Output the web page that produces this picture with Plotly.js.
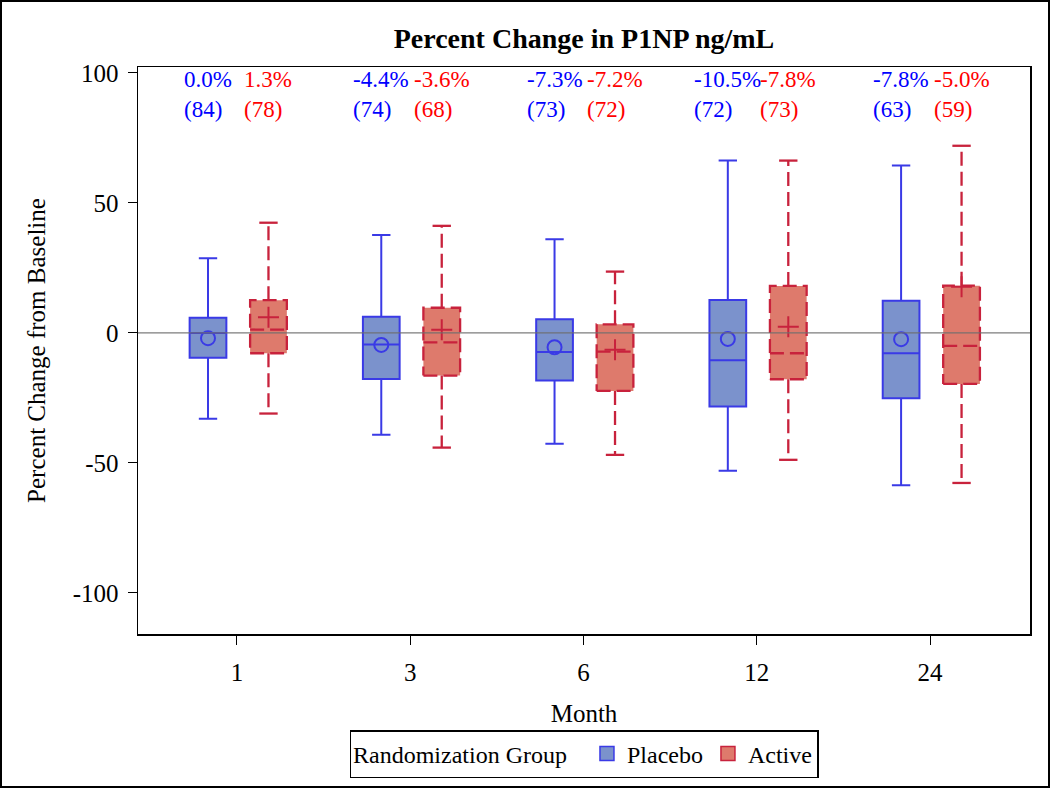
<!DOCTYPE html>
<html>
<head>
<meta charset="utf-8">
<script src="https://cdn.plot.ly/plotly-3.0.1.min.js"></script>
<style>
  html, body { margin: 0; padding: 0; background: #fff; }
  #wrap { position: relative; width: 1050px; height: 788px; }
  #chart { width: 1050px; height: 788px; }
  #frame { position: absolute; left: 0; top: 0; width: 1050px; height: 788px; box-sizing: border-box; border: 2px solid #000; pointer-events: none; }
</style>
</head>
<body>
<div id="wrap"><div id="chart"></div><div id="frame"></div></div>
<script>
// ---- data ----
const months = ['1', '3', '6', '12', '24'];
const yTickValues = [-100, -50, 0, 50, 100];
const yTickLabels = ['-100', '-50', '0', '50', '100'];

const placeboQ1     = [-9.5, -17.7, -18.3, -28.3, -25.1];
const placeboMedian = [0.0, -4.4, -7.3, -10.5, -7.8];
const placeboQ3     = [5.8, 6.2, 5.3, 12.7, 12.4];
const placeboLow    = [-33.0, -39.2, -42.6, -53.0, -58.6];
const placeboHigh   = [28.7, 37.7, 36.0, 66.3, 64.4];
const placeboMean   = [-2.0, -4.6, -5.5, -2.3, -2.4];
const placeboN      = [84, 74, 73, 72, 63];

const activeQ1      = [-7.8, -16.4, -22.3, -17.8, -19.6];
const activeMedian  = [1.3, -3.6, -7.2, -7.8, -5.0];
const activeQ3      = [12.6, 9.7, 3.3, 18.1, 18.2];
const activeLow     = [-31.0, -44.1, -46.9, -48.8, -57.7];
const activeHigh    = [42.4, 41.2, 23.6, 66.3, 72.0];
const activeMean    = [6.0, 1.2, -6.5, 2.4, 17.8];
const activeN       = [78, 68, 72, 73, 59];

// ---- styling / layout constants ----
const FONT = 'Liberation Serif, Times New Roman, serif';
const pOff = -0.167, aOff = 0.182, boxW = 0.212, capW = boxW * 0.5;
const pLine = '#3a3ae6', pFill = '#7b92cc';
const aLine = '#c8223c', aFill = '#de7a6c';

const idx = months.map((m, i) => i);
const px = idx.map(i => i + pOff);
const ax = idx.map(i => i + aOff);

const traces = [];

// Placebo boxes
traces.push({
  type: 'box', x: px, q1: placeboQ1, median: placeboMedian, q3: placeboQ3,
  lowerfence: placeboLow, upperfence: placeboHigh, width: boxW, whiskerwidth: 0.5,
  fillcolor: pFill, line: { color: pLine, width: 2 }, showlegend: false, hoverinfo: 'skip'
});

// Active boxes (fill only; dashed outline drawn below)
traces.push({
  type: 'box', x: ax, q1: activeQ1, median: activeMedian, q3: activeQ3,
  lowerfence: activeLow, upperfence: activeHigh, width: boxW, whiskerwidth: 0.5,
  fillcolor: aFill, line: { color: 'rgba(0,0,0,0)', width: 2 }, showlegend: false, hoverinfo: 'skip'
});

// Active dashed outline, median and whiskers
const dx = [], dy = [], cx = [], cy = [];
ax.forEach((x, i) => {
  const l = x - boxW / 2, r = x + boxW / 2;
  dx.push(l, r, r, l, l, null); dy.push(activeQ1[i], activeQ1[i], activeQ3[i], activeQ3[i], activeQ1[i], null);
  dx.push(l, r, null); dy.push(activeMedian[i], activeMedian[i], null);
  dx.push(x, x, null); dy.push(activeQ3[i], activeHigh[i], null);
  dx.push(x, x, null); dy.push(activeQ1[i], activeLow[i], null);
  cx.push(x - capW / 2, x + capW / 2, null); cy.push(activeHigh[i], activeHigh[i], null);
  cx.push(x - capW / 2, x + capW / 2, null); cy.push(activeLow[i], activeLow[i], null);
});
traces.push({
  type: 'scatter', mode: 'lines', x: dx, y: dy, connectgaps: false,
  line: { color: aLine, width: 2.3, dash: '14px,6px' }, showlegend: false, hoverinfo: 'skip'
});
traces.push({
  type: 'scatter', mode: 'lines', x: cx, y: cy, connectgaps: false,
  line: { color: aLine, width: 2.3 }, showlegend: false, hoverinfo: 'skip'
});

// Means
traces.push({
  type: 'scatter', mode: 'markers', x: px, y: placeboMean, showlegend: false, hoverinfo: 'skip',
  marker: { symbol: 'circle-open', size: 14, color: pLine, line: { width: 2, color: pLine } }
});
traces.push({
  type: 'scatter', mode: 'markers', x: ax, y: activeMean, showlegend: false, hoverinfo: 'skip',
  marker: { symbol: 'cross-thin-open', size: 15, color: aLine, line: { width: 2, color: aLine } }
});

// Legend entries
traces.push({
  type: 'scatter', mode: 'markers', x: [null], y: [null], name: 'Placebo',
  marker: { symbol: 'square', size: 14, color: pFill, line: { color: pLine, width: 1.5 } }
});
traces.push({
  type: 'scatter', mode: 'markers', x: [null], y: [null], name: 'Active',
  marker: { symbol: 'square', size: 14, color: aFill, line: { color: aLine, width: 1.5 } }
});

// Median / N labels
const annotations = [];
idx.forEach(i => {
  annotations.push({
    xref: 'x', yref: 'paper', x: px[i], y: 0.952, xanchor: 'center', yanchor: 'middle', align: 'left',
    text: placeboMedian[i].toFixed(1) + '%<br>(' + placeboN[i] + ')', showarrow: false,
    font: { family: FONT, size: 23, color: '#0000ff' }
  });
  annotations.push({
    xref: 'x', yref: 'paper', x: ax[i], y: 0.952, xanchor: 'center', yanchor: 'middle', align: 'left',
    text: activeMedian[i].toFixed(1) + '%<br>(' + activeN[i] + ')', showarrow: false,
    font: { family: FONT, size: 23, color: '#ff0000' }
  });
});

const layout = {
  width: 1050, height: 788,
  margin: { l: 138, r: 20, t: 67, b: 154 },
  paper_bgcolor: '#fff', plot_bgcolor: '#fff',
  font: { family: FONT, size: 25, color: '#000' },
  title: {
    text: '<b>Percent Change in P1NP ng/mL</b>', font: { family: FONT, size: 28, color: '#000' },
    x: 0.5, xref: 'paper', xanchor: 'center', y: 1 - 38 / 788, yref: 'container', yanchor: 'middle'
  },
  xaxis: {
    type: 'linear', range: [-0.571, 4.577], tickvals: idx, ticktext: months,
    showline: true, mirror: true, linecolor: '#000', linewidth: 1.5,
    ticks: 'outside', ticklen: 9, tickwidth: 1, tickcolor: '#000', ticklabelstandoff: 6,
    showgrid: false, zeroline: false, automargin: false,
    tickfont: { family: FONT, size: 25 },
    title: { text: 'Month', font: { family: FONT, size: 25 }, standoff: 20 }
  },
  yaxis: {
    range: [-115.8, 102.3], tickvals: yTickValues, ticktext: yTickLabels,
    showline: true, mirror: true, linecolor: '#000', linewidth: 1.5,
    ticks: 'outside', ticklen: 9, tickwidth: 1, tickcolor: '#000', ticklabelstandoff: 4,
    showgrid: false, zeroline: false, automargin: false,
    tickfont: { family: FONT, size: 25 },
    title: { text: 'Percent Change from Baseline', font: { family: FONT, size: 25 }, standoff: 20 }
  },
  shapes: [{
    type: 'line', xref: 'paper', yref: 'y', x0: 0, x1: 1, y0: 0, y1: 0, layer: 'above',
    line: { color: 'rgba(110,110,110,0.9)', width: 1.2 }
  }],
  annotations: annotations,
  showlegend: true,
  legend: {
    orientation: 'h', x: 0.5, xanchor: 'center', xref: 'paper',
    y: 1 - 730 / 788, yref: 'container', yanchor: 'top',
    bordercolor: '#000', borderwidth: 1.5, bgcolor: '#fff',
    font: { family: FONT, size: 24 },
    title: { text: 'Randomization Group  ', side: 'left', font: { family: FONT, size: 24 } },
    itemwidth: 30
  }
};

Plotly.newPlot('chart', traces, layout, { displayModeBar: false, staticPlot: true });
</script>
</body>
</html>
